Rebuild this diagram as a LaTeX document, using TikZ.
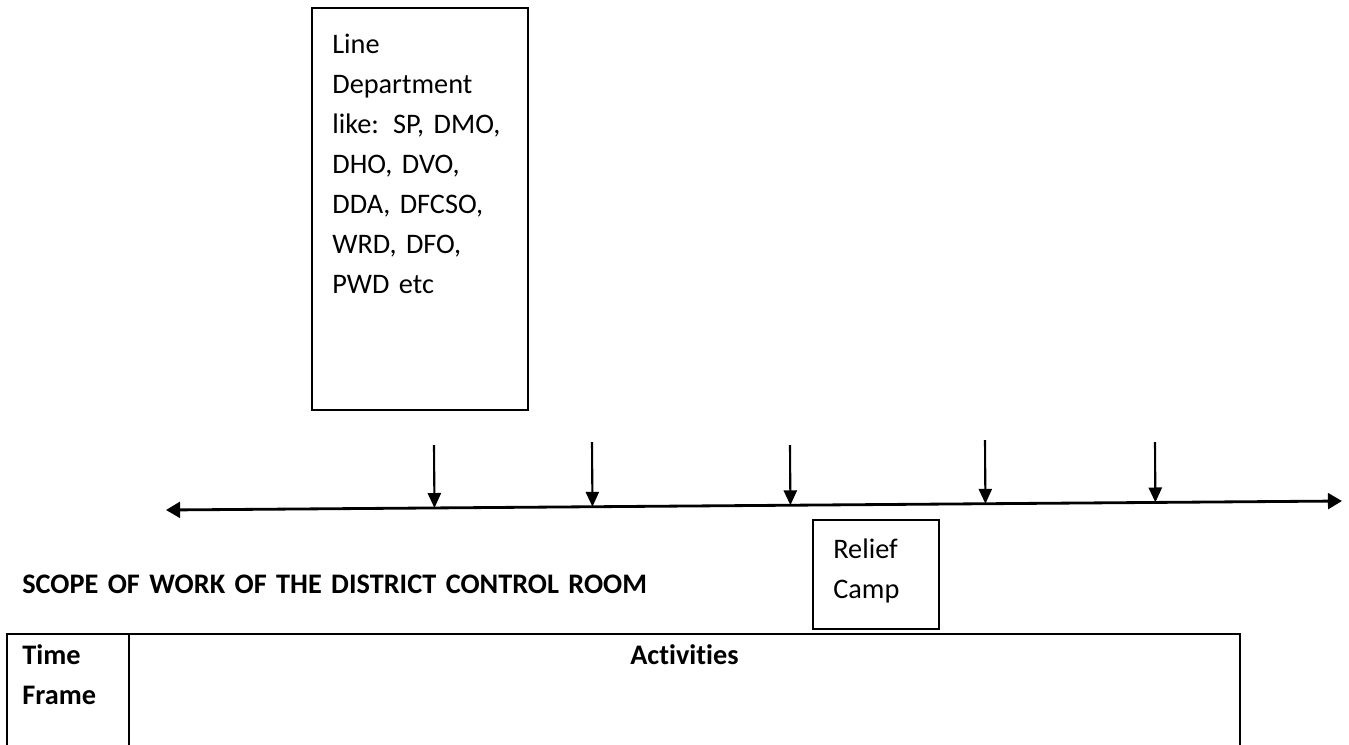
\documentclass[tikz,border=0pt]{standalone}
\usepackage{fontspec}
\setmainfont{Carlito}[Ligatures=NoCommon]
\usetikzlibrary{arrows.meta,calc}

\begin{document}
\begin{tikzpicture}[x=0.02cm,y=-0.02cm,
    box/.style={draw, line width=1.1pt, inner sep=0pt, anchor=north west},
    txt/.style={inner sep=0pt, anchor=base west, align=left, text width=4cm,
                font=\fontsize{16.1}{22.8}\selectfont},
    timeline/.style={line width=1.6pt, {Triangle[width=9pt,length=8pt]}-{Triangle[width=9pt,length=8pt]}},
    down/.style={line width=1.2pt, -{Triangle[width=7.5pt,length=8.5pt]}}]
    \useasboundingbox (0,0) rectangle (1349,744);
    \fill[white] (0,0) rectangle (1349,744);
    \clip (0,0) rectangle (1349,744);

    % Line departments box (top)
    \node[box, minimum width=4.32cm, minimum height=8.04cm] (linedept) at (311,7) {};
    \node[txt] (linetext) at (332,53) {Line\\Department\\like: SP, DMO,\\DHO, DVO,\\DDA, DFCSO,\\WRD, DFO,\\PWD etc};

    % Time line with both ends open
    \coordinate (tl) at (166,510);
    \coordinate (tr) at (1342,501);
    \draw[timeline] (tl) -- (tr);

    % Arrows coming down onto the time line
    \foreach \x/\y [count=\i] in {434/445, 592/442, 790/445, 985/440, 1155/442} {
        \coordinate (top\i) at (\x,\y);
        \draw[down] (top\i) -- ($(tl)!(top\i)!(tr)$);
    }

    % Relief camp box (below the line)
    \node[box, minimum width=2.52cm, minimum height=2.18cm] (relief) at (812,519) {};
    \node[txt, text width=2cm] (relieftext) at (833,558) {Relief\\Camp};

    % Heading
    \node[txt, text width=14cm, font=\fontsize{16.1}{22.8}\selectfont\bfseries] (scope) at (22,593) {SCOPE OF WORK OF THE DISTRICT CONTROL ROOM};

    % Table head (runs off the bottom)
    \draw[line width=1.1pt] (7,760) -- (7,634) -- (1240,634) -- (1240,760);
    \draw[line width=1.1pt] (129,634) -- (129,760);
    \node[txt, text width=2cm, font=\fontsize{16.1}{22.8}\selectfont\bfseries] (timeframe) at (22,664) {Time\\Frame};
    \node[inner sep=0pt, anchor=base, font=\fontsize{16.1}{22.8}\selectfont\bfseries] (activities) at (684.5,664) {Activities};
\end{tikzpicture}
\end{document}
